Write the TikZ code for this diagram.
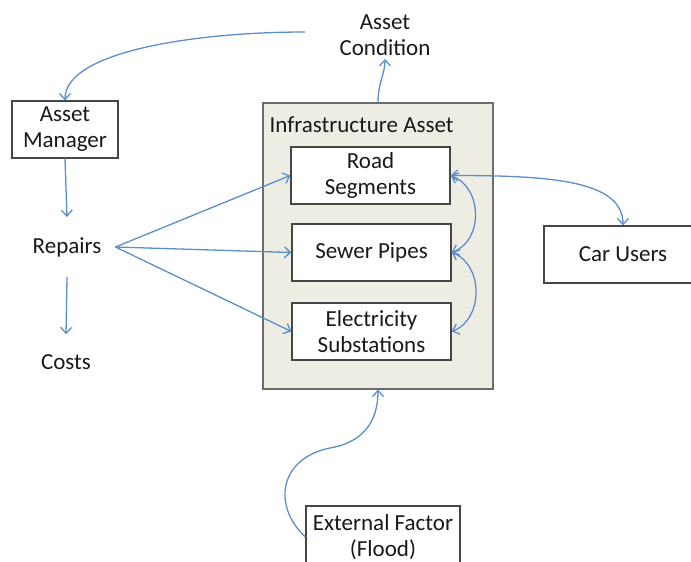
\documentclass[tikz,border=0pt]{standalone}
\usepackage{fontspec}
\setmainfont{Carlito}
\usetikzlibrary{arrows.meta}
\definecolor{flowblue}{RGB}{91,143,203}
\definecolor{panelfill}{RGB}{238,237,228}
\definecolor{boxline}{RGB}{70,70,70}
\begin{document}
\begin{tikzpicture}[x=1pt,y=-1pt,
  every node/.style={font=\fontsize{23}{26}\selectfont,text=black!90,align=center},
  box/.style={draw=boxline,line width=1.3pt,fill=white,minimum height=57pt,inner sep=0pt},
  plain/.style={inner xsep=14pt,inner ysep=20pt},
  flow/.style={draw=flowblue,line width=1.3pt,-{Straight Barb[length=6pt,width=11pt]}},
  both/.style={flow,{Straight Barb[length=6pt,width=11pt]}-{Straight Barb[length=6pt,width=11pt]}}]
\useasboundingbox (0,0) rectangle (691,562);
\clip (0,0) rectangle (691,562);

\node (cond) at (385,35) {Asset\\Condition};
\node[box,minimum width=106pt] (mgr) at (65,129.5) {Asset\\Manager};
\node[plain] (repairs) at (67,247) {Repairs};
\node[plain] (costs) at (66,362) {Costs};

\node[draw=gray!85!black,line width=1.2pt,fill=panelfill,minimum width=230pt,minimum height=286pt,inner sep=0pt] (infra) at (378,246) {};
\node[anchor=west] (infratitle) at (266,125) {Infrastructure Asset};
\node[box,minimum width=159pt] (road) at (370.5,175.5) {Road\\Segments};
\node[box,minimum width=159pt] (sewer) at (371.5,252.5) {Sewer Pipes};
\node[box,minimum width=159pt] (elec) at (371.5,331.5) {Electricity\\Substations};

\node[box,minimum width=158pt] (car) at (623,254.5) {Car Users};
\node[box,minimum width=154pt,minimum height=62pt] (ext) at (383,537) {External Factor\\(Flood)};

\coordinate (condtail) at (305,32);
\coordinate (floodbend) at (330,448);

% feedback loop
\draw[flow] (condtail) .. controls +(-105,0) and +(0,-50) .. (mgr.north);
\draw[flow] (infra.north) .. controls +(0,-20) and +(0,15) .. (cond.south);
\draw[flow] (mgr.south) -- (repairs.north);
\draw[flow] (repairs.south) -- (costs.north);

\draw[flow] (repairs.east) -- (road.west);
\draw[flow] (repairs.east) -- (sewer.west);
\draw[flow] (repairs.east) -- (elec.west);

% links between assets
\draw[both] (road.east) .. controls +(100,0) and +(0,-45) .. (car.north);
\draw[both] (road.east) .. controls +(32,12) and +(32,-12) .. (sewer.east);
\draw[both] (sewer.east) .. controls +(32,12) and +(32,-12) .. (elec.east);

\draw[flow] (ext.west) .. controls +(-34,-32) and +(-50,10) .. (floodbend)
  .. controls +(35,-6) and +(0,30) .. (infra.south);
\end{tikzpicture}
\end{document}
